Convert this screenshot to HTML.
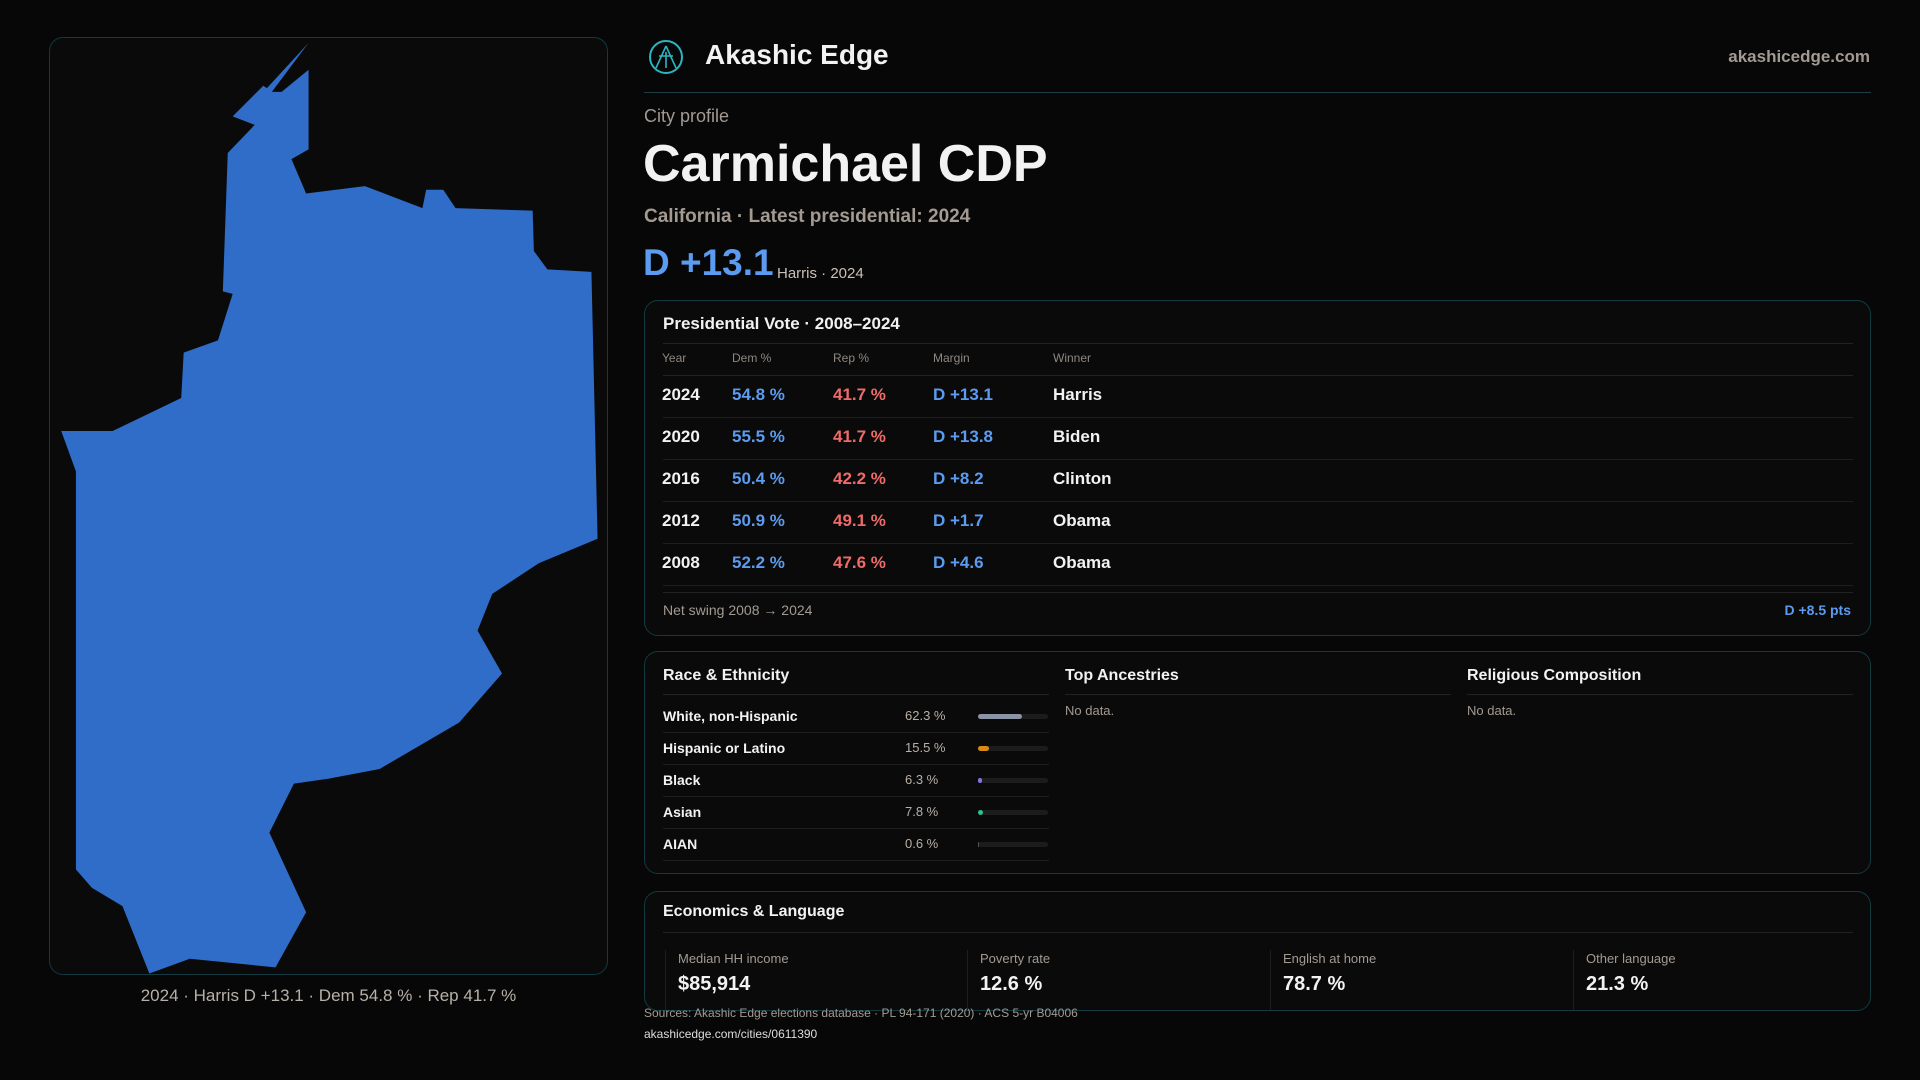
<!DOCTYPE html>
<html><head><meta charset="utf-8"><style>
*{box-sizing:border-box;margin:0;padding:0}
body{width:1920px;height:1080px;background:#070707;color:#f2f2f2;font-family:"Liberation Sans",sans-serif;position:relative;overflow:hidden}
.a{position:absolute;white-space:nowrap}
.card{position:absolute;border:1px solid #123a40;border-radius:14px;background:#0a0a0a}
.muted{color:#a39a92}
.blue{color:#5b9bf0}.red{color:#f06a6a}
.hr{position:absolute;height:1px;background:#222}
</style></head><body>
<div class="card" style="left:49px;top:37px;width:559px;height:938px;background:#0a0a0a"></div>
<svg class="a" style="left:0;top:0" width="1920" height="1080" viewBox="0 0 1568 882">
<polygon fill="#306dc9" points="218,72 252,35 222,75 230,75 252,57 252,122 238,130 250,158 298,152 345,170 348,155 362,155 372,170 435,172 436,205 447,220 483,222 488,440 440,460 402,485 390,515 410,550 375,590 310,628 268,636 240,640 220,680 250,745 225,790 155,783 122,795 100,740 75,725 62,710 62,385 50,352 92,352 148,325 150,288 178,278 190,240 182,238 186,125 208,102 190,95 215,70"/>
</svg>
<div class="a muted" style="left:49px;width:559px;text-align:center;top:986px;font-size:17px;color:#b8b0a8">2024 · Harris D +13.1 · Dem 54.8 % · Rep 41.7 %</div>

<svg class="a" style="left:647px;top:38px" width="38" height="38" viewBox="0 0 38 38"><circle cx="19" cy="19" r="16" fill="none" stroke="#2bb5c0" stroke-width="2"/><path d="M19 8 L9 30 M19 8 L29 30 M12 18 L26 18 M19 14 L19 30" stroke="#2bb5c0" stroke-width="1.6" fill="none"/></svg>
<div class="a" style="left:705px;top:39px;font-size:28px;font-weight:bold">Akashic Edge</div>
<div class="a muted" style="right:50px;top:47px;font-size:17px;font-weight:bold">akashicedge.com</div>
<div class="hr" style="left:644px;top:92px;width:1227px;background:#1b3f44"></div>

<div class="a muted" style="left:644px;top:106px;font-size:18px">City profile</div>
<div class="a" style="left:643px;top:134px;font-size:52px;font-weight:bold">Carmichael CDP</div>
<div class="a muted" style="left:644px;top:206px;font-size:19px;font-weight:bold">California · Latest presidential: 2024</div>
<div class="a blue" style="left:643px;top:242px;font-size:37px;font-weight:bold">D +13.1</div>
<div class="a muted" style="left:777px;top:265px;font-size:15px;color:#c8c0b8">Harris · 2024</div>

<div class="card" style="left:644px;top:300px;width:1227px;height:336px"></div>
<div class="a" style="left:663px;top:314px;font-size:17px;font-weight:bold">Presidential Vote · 2008–2024</div>
<div class="hr" style="left:663px;top:343px;width:1190px"></div>
<div id="vote"></div>
<div class="hr" style="left:663px;top:592px;width:1190px"></div>
<div class="a muted" style="left:663px;top:602px;font-size:14px">Net swing 2008 → 2024</div>
<div class="a blue" style="right:69px;top:602px;font-size:14px;font-weight:bold">D +8.5 pts</div>

<div class="card" style="left:644px;top:651px;width:1227px;height:223px"></div>
<div class="a" style="left:663px;top:667px;font-size:16px;font-weight:bold">Race &amp; Ethnicity</div>
<div class="hr" style="left:663px;top:694px;width:386px"></div>
<div id="race"></div>
<div class="a" style="left:1065px;top:667px;font-size:16px;font-weight:bold">Top Ancestries</div>
<div class="hr" style="left:1065px;top:694px;width:386px"></div>
<div class="a muted" style="left:1065px;top:703px;font-size:13px">No data.</div>
<div class="a" style="left:1467px;top:667px;font-size:16px;font-weight:bold">Religious Composition</div>
<div class="hr" style="left:1467px;top:694px;width:386px"></div>
<div class="a muted" style="left:1467px;top:703px;font-size:13px">No data.</div>

<div class="card" style="left:644px;top:891px;width:1227px;height:120px"></div>
<div class="a" style="left:663px;top:903px;font-size:16px;font-weight:bold">Economics &amp; Language</div>
<div class="hr" style="left:663px;top:932px;width:1190px"></div>
<div id="econ"></div>

<div class="a muted" style="left:644px;top:1006px;font-size:12px">Sources: Akashic Edge elections database · PL 94-171 (2020) · ACS 5-yr B04006</div>
<div class="a" style="left:644px;top:1027px;font-size:12px;color:#ddd">akashicedge.com/cities/0611390</div>

<script>
const years=["2024","2020","2016","2012","2008"];
const demPct=[54.8,55.5,50.4,50.9,52.2];
const repPct=[41.7,41.7,42.2,49.1,47.6];
const margins=["D +13.1","D +13.8","D +8.2","D +1.7","D +4.6"];
const winners=["Harris","Biden","Clinton","Obama","Obama"];
const raceLabels=["White, non-Hispanic","Hispanic or Latino","Black","Asian","AIAN"];
const raceValues=[62.3,15.5,6.3,7.8,0.6];
const raceColors=["#8a93a6","#d88a14","#8b6fe0","#2bc48a","#555"];
const econLabels=["Median HH income","Poverty rate","English at home","Other language"];
const econValues=["$85,914","12.6 %","78.7 %","21.3 %"];
function mk(parent,css,txt){const d=document.createElement('div');d.className='a';d.style.cssText=css;if(txt!==undefined)d.textContent=txt;parent.appendChild(d);return d;}
const body=document.body;
const cols=[662,732,833,933,1053];
const heads=["Year","Dem %","Rep %","Margin","Winner"];
heads.forEach((h,i)=>{const e=mk(body,`left:${cols[i]}px;top:351px;font-size:12px;color:#8f8780`,h);

});
mk(body,`left:663px;top:375px;width:1190px;height:1px;background:#222`);
years.forEach((y,i)=>{
 const top=385+i*42;
 const vals=[y,demPct[i].toFixed(1)+' %',repPct[i].toFixed(1)+' %',margins[i],winners[i]];
 const colors=['#f2f2f2','#5b9bf0','#f06a6a','#5b9bf0','#f2f2f2'];
 vals.forEach((v,j)=>{const e=mk(body,`left:${cols[j]}px;top:${top}px;font-size:17px;font-weight:bold;color:${colors[j]}`,v);
 
 });
 const l=mk(body,`left:663px;top:${top+32}px;width:1190px;height:1px;background:#1e1e1e`);
 
 
});
raceLabels.forEach((r,i)=>{
 const top=708+i*32;
 const a=mk(body,`left:663px;top:${top}px;font-size:14px;font-weight:bold`,r);
 
 
 const b=mk(body,`left:905px;top:${top}px;font-size:13px;color:#b8b0a8`,raceValues[i].toFixed(1)+' %');
 
 
 const t=mk(body,`left:978px;top:${top+6}px;width:70px;height:5px;border-radius:3px;background:#1c1c1c`);
 
 
 const f=mk(body,`left:978px;top:${top+6}px;width:${Math.max(raceValues[i]/100*70,raceValues[i]>1?3:0)}px;height:5px;border-radius:3px;background:${raceColors[i]}`);
 
 
 const d=mk(body,`left:663px;top:${top+24}px;width:386px;height:1px;background:#1e1e1e`);
 
 
});
const ex=[665,967,1270,1573];
econLabels.forEach((l,i)=>{
 const s=mk(body,`left:${ex[i]}px;top:950px;width:1px;height:60px;background:#1e1e1e`);
 
 
 const a=mk(body,`left:${ex[i]+13}px;top:951px;font-size:13px;color:#a39a92`,l);
 
 
 const b=mk(body,`left:${ex[i]+13}px;top:973px;font-size:20px;font-weight:bold`,econValues[i]);
 
 
});
</script>
</body></html>
